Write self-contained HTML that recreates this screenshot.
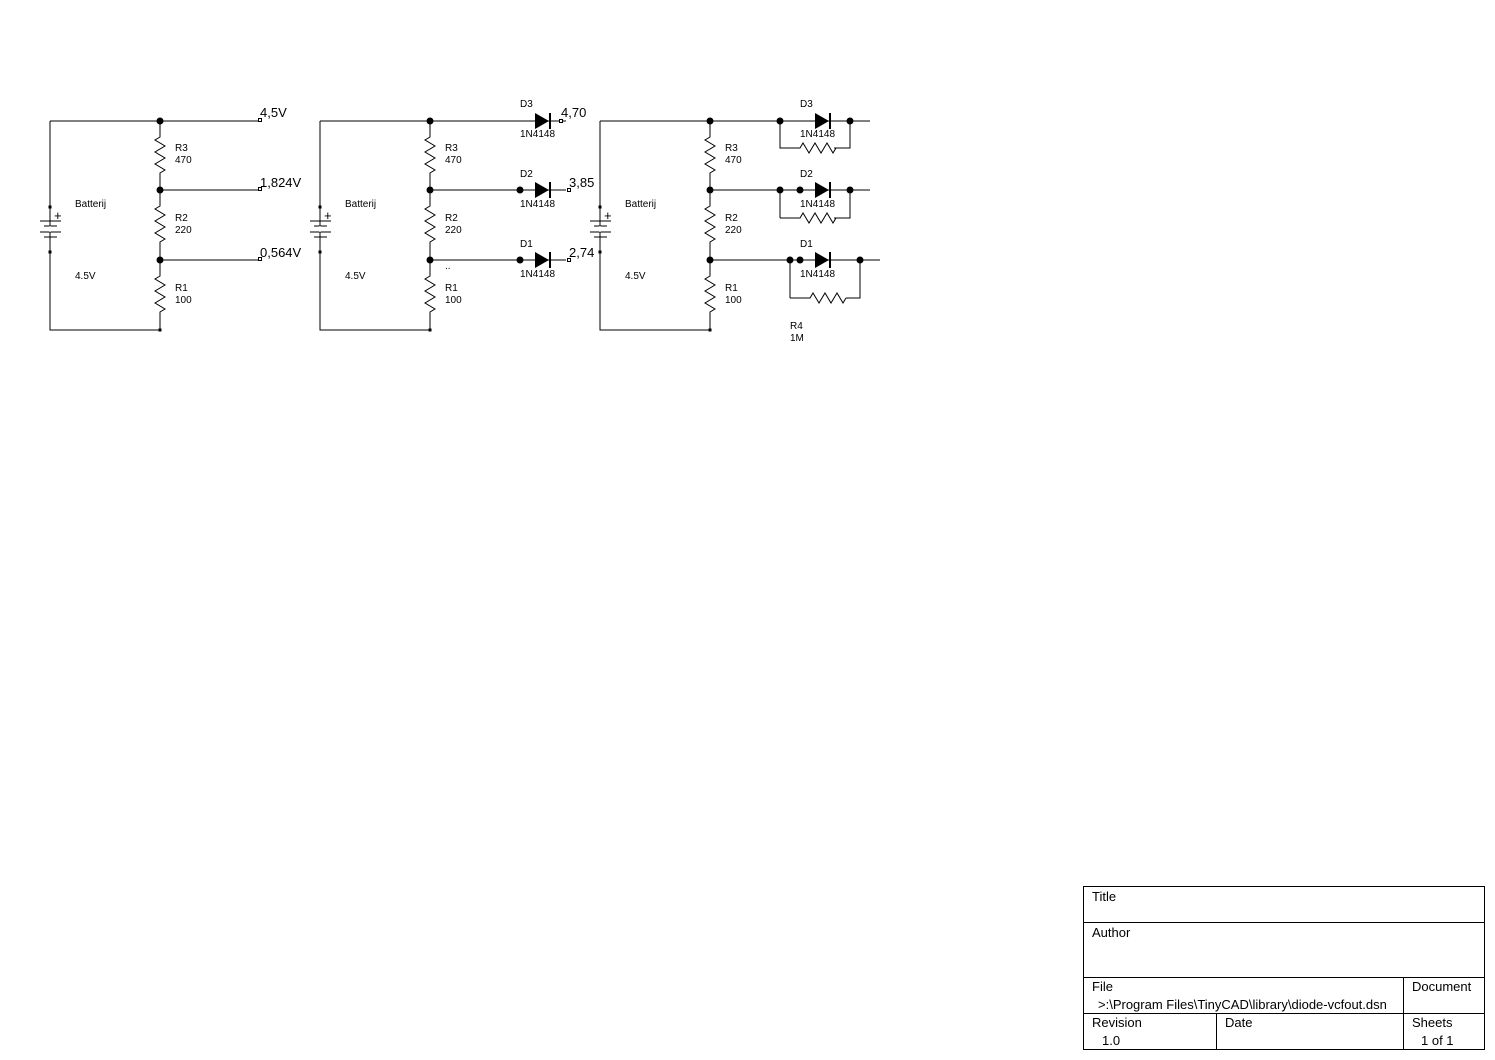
<!DOCTYPE html>
<html><head><style>
html,body{margin:0;padding:0;background:#fff;}
svg{display:block;}
text{font-family:"Liberation Sans",Arial,sans-serif;fill:#000;}
.s{font-size:10px;}
.m{font-size:13px;}
.t{font-size:13px;}
</style></head><body>
<svg width="1495" height="1060" viewBox="0 0 1495 1060" xmlns="http://www.w3.org/2000/svg">
<defs>
<g id="bat">
 <line x1="0" y1="-84" x2="0" y2="-16" stroke="#000"/>
 <line x1="0" y1="14" x2="0" y2="80" stroke="#000"/>
 <line x1="-10" y1="-11" x2="11" y2="-11" stroke="#000"/>
 <line x1="-6" y1="-6" x2="7" y2="-6" stroke="#000"/>
 <line x1="-10" y1="0" x2="11" y2="0" stroke="#000"/>
 <line x1="-6" y1="5" x2="7" y2="5" stroke="#000"/>
 <line x1="0" y1="-6" x2="0" y2="0" stroke="#fff"/>
 <rect x="-1.5" y="-26.5" width="3" height="3" fill="#000"/>
 <rect x="-1.5" y="18.5" width="3" height="3" fill="#000"/>
 <text x="4" y="-12" style="font-size:13px">+</text>
</g>
<path id="rz" d="M0,0 L0,16 L-5,19 L5,25 L-5,31 L5,37 L-5,43 L5,49 L0,52 L0,70" fill="none" stroke="#000"/>
<path id="rh" d="M0,0 L20,0 L23,-5 L29,5 L35,-5 L41,5 L47,-5 L53,5 L56,0" fill="none" stroke="#000"/>
<g id="di">
 <polygon points="0,-8 0,8 14,0" fill="#000"/>
 <line x1="15" y1="-8" x2="15" y2="8" stroke="#000" stroke-width="2"/>
</g>
<g id="div">
 <path d="M0,121 L0,330 L110,330 M0,121 L110,121" fill="none" stroke="#000"/>
 <use href="#rz" x="110" y="121"/>
 <use href="#rz" x="110" y="190"/>
 <use href="#rz" x="110" y="260"/>
 <circle cx="110" cy="121" r="3.5"/>
 <circle cx="110" cy="190" r="3.5"/>
 <circle cx="110" cy="260" r="3.5"/>
 <rect x="108.5" y="328.5" width="3" height="3"/>
 <text class="s" x="125" y="151">R3</text><text class="s" x="125" y="163">470</text>
 <text class="s" x="125" y="221">R2</text><text class="s" x="125" y="233">220</text>
 <text class="s" x="125" y="291">R1</text><text class="s" x="125" y="303">100</text>
 <text class="s" x="25" y="207">Batterij</text>
 <text class="s" x="25" y="279">4.5V</text>
</g>
</defs>
<g stroke="#000" fill="none">
</g>
<!-- circuit 1 -->
<g transform="translate(50,0)"><use href="#div"/><use href="#bat" x="0" y="232"/></g>
<path d="M160,190 L258,190 M160,260 L258,260 M160,121 L258,121" stroke="#000"/>
<rect x="258.5" y="118.5" width="3" height="3" fill="#fff" stroke="#000"/>
<rect x="258.5" y="187.5" width="3" height="3" fill="#fff" stroke="#000"/>
<rect x="258.5" y="257.5" width="3" height="3" fill="#fff" stroke="#000"/>
<text class="m" x="260" y="117">4,5V</text>
<text class="m" x="260" y="187">1,824V</text>
<text class="m" x="260" y="257">0,564V</text>

<!-- circuit 2 -->
<g transform="translate(320,0)"><use href="#div"/><use href="#bat" x="0" y="232"/></g>
<path d="M430,121 L566,121 M430,190 L566,190 M430,260 L566,260" stroke="#000"/>
<use href="#di" x="535" y="121"/><use href="#di" x="535" y="190"/><use href="#di" x="535" y="260"/>
<circle cx="520" cy="190" r="3.5"/><circle cx="520" cy="260" r="3.5"/>
<rect x="559.5" y="119.5" width="3" height="3" fill="#fff" stroke="#000"/>
<rect x="567.5" y="188.5" width="3" height="3" fill="#fff" stroke="#000"/>
<rect x="567.5" y="258.5" width="3" height="3" fill="#fff" stroke="#000"/>
<text class="s" x="520" y="107">D3</text><text class="s" x="520" y="137">1N4148</text>
<text class="s" x="520" y="177">D2</text><text class="s" x="520" y="207">1N4148</text>
<text class="s" x="520" y="247">D1</text><text class="s" x="520" y="277">1N4148</text>
<text class="m" x="561" y="117">4,70</text>
<text class="m" x="569" y="187">3,85</text>
<text class="m" x="569" y="257">2,74</text>
<text class="s" x="445" y="269">..</text>

<!-- circuit 3 -->
<g transform="translate(600,0)"><use href="#div"/><use href="#bat" x="0" y="232"/></g>
<path d="M710,121 L870,121 M710,190 L870,190 M710,260 L880,260" stroke="#000"/>
<use href="#di" x="815" y="121"/><use href="#di" x="815" y="190"/><use href="#di" x="815" y="260"/>
<path d="M780,121 L780,148 L800,148 M850,121 L850,148 L834,148" stroke="#000" fill="none"/>
<use href="#rh" x="780" y="148"/>
<path d="M780,190 L780,218 M850,190 L850,218 L834,218" stroke="#000" fill="none"/>
<use href="#rh" x="780" y="218"/>
<path d="M790,260 L790,298 M860,260 L860,298 L846,298" stroke="#000" fill="none"/>
<use href="#rh" x="790" y="298"/>
<circle cx="780" cy="121" r="3.5"/><circle cx="850" cy="121" r="3.5"/>
<circle cx="780" cy="190" r="3.5"/><circle cx="800" cy="190" r="3.5"/><circle cx="850" cy="190" r="3.5"/>
<circle cx="790" cy="260" r="3.5"/><circle cx="800" cy="260" r="3.5"/><circle cx="860" cy="260" r="3.5"/>
<text class="s" x="800" y="107">D3</text><text class="s" x="800" y="137">1N4148</text>
<text class="s" x="800" y="177">D2</text><text class="s" x="800" y="207">1N4148</text>
<text class="s" x="800" y="247">D1</text><text class="s" x="800" y="277">1N4148</text>
<text class="s" x="790" y="329">R4</text><text class="s" x="790" y="341">1M</text>

<!-- title block -->
<g stroke="#000" fill="none">
<rect x="1083.5" y="886.5" width="401" height="163"/>
<line x1="1083" y1="922.5" x2="1484" y2="922.5"/>
<line x1="1083" y1="977.5" x2="1484" y2="977.5"/>
<line x1="1083" y1="1013.5" x2="1484" y2="1013.5"/>
<line x1="1403.5" y1="977" x2="1403.5" y2="1049"/>
<line x1="1216.5" y1="1013" x2="1216.5" y2="1049"/>
</g>
<text class="t" x="1092" y="901">Title</text>
<text class="t" x="1092" y="937">Author</text>
<text class="t" x="1092" y="991">File</text>
<text class="t" x="1098" y="1009">&gt;:\Program Files\TinyCAD\library\diode-vcfout.dsn</text>
<text class="t" x="1412" y="991">Document</text>
<text class="t" x="1092" y="1027">Revision</text>
<text class="t" x="1102" y="1045">1.0</text>
<text class="t" x="1225" y="1027">Date</text>
<text class="t" x="1412" y="1027">Sheets</text>
<text class="t" x="1421" y="1045">1 of 1</text>
</svg>
</body></html>
